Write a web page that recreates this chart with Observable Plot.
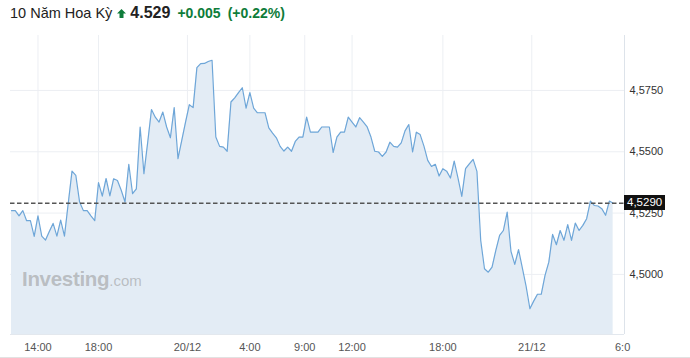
<!DOCTYPE html>
<html>
<head>
<meta charset="utf-8">
<script src="https://cdn.jsdelivr.net/npm/d3@7"></script>
<script src="https://cdn.jsdelivr.net/npm/@observablehq/plot@0.6"></script>
<style>
  html, body { margin: 0; padding: 0; background: #fff; }
  body { width: 690px; height: 358px; overflow: hidden; position: relative; font-family: "Liberation Sans", Arial, sans-serif; }
  #title { height: 30px; display: flex; align-items: center; padding-left: 10px; white-space: nowrap; box-sizing: border-box; padding-bottom: 4px; }
  #title .name { font-size: 14.5px; color: #222; }
  #title .arrow { margin-left: 5px; margin-right: 4px; display: inline-block; width: 9px; height: 9px; }
  #title .price { font-size: 16px; font-weight: bold; color: #222; }
  #title .chg { font-size: 14px; font-weight: bold; color: #0e7c3a; margin-left: 7px; }
  #chart { position: relative; height: 327px; }
  #chart svg { display: block; overflow: visible; }
  #price-tag { position: absolute; background: #111; color: #fff; font-size: 11.5px; padding: 1px 3px; line-height: 13px; }
  #wm { position: absolute; left: 22px; top: 267px; color: rgba(150,150,150,0.55); white-space: nowrap; }
  #wm .a { font-size: 20.5px; font-weight: bold; letter-spacing: -0.3px; }
  #wm .b { font-size: 15px; }
  #bottom { height: 1px; background: #e2e2e2; }
</style>
</head>
<body>
<div id="title">
  <span class="name">10 Năm Hoa Kỳ</span><svg class="arrow" viewBox="0 0 9 9"><polygon points="4.5,0 9,4.5 6.5,4.5 6.5,9 2.5,9 2.5,4.5 0,4.5" fill="#0e7c3a"/></svg><span class="price">4.529</span><span class="chg">+0.005</span><span class="chg">(+0.22%)</span>
</div>
<div id="chart"></div>
<div id="bottom"></div>
<div id="wm"><span class="a">Investing</span><span class="b">.com</span></div>
<script>
// Yield values (one point per slot, evenly spaced)
const yieldValues = [
  4.5260, 4.5260, 4.5239, 4.5260, 4.5219, 4.5219, 4.5155, 4.5239, 4.5156, 4.5140,
  4.5175, 4.5208, 4.5156, 4.5221, 4.5156, 4.5290, 4.5421, 4.5404, 4.5295, 4.5260,
  4.5260, 4.5239, 4.5219, 4.5374, 4.5319, 4.5391, 4.5320, 4.5390, 4.5383, 4.5343,
  4.5295, 4.5449, 4.5329, 4.5349, 4.5601, 4.5411, 4.5539, 4.5672, 4.5641, 4.5621,
  4.5662, 4.5601, 4.5557, 4.5680, 4.5472, 4.5546, 4.5621, 4.5692, 4.5680, 4.5843,
  4.5859, 4.5860, 4.5868, 4.5873, 4.5560, 4.5522, 4.5519, 4.5502, 4.5703, 4.5720,
  4.5741, 4.5761, 4.5678, 4.5741, 4.5678, 4.5659, 4.5659, 4.5659, 4.5597, 4.5576,
  4.5557, 4.5522, 4.5503, 4.5519, 4.5502, 4.5542, 4.5560, 4.5560, 4.5641, 4.5580,
  4.5580, 4.5580, 4.5601, 4.5601, 4.5601, 4.5497, 4.5560, 4.5580, 4.5580, 4.5641,
  4.5621, 4.5601, 4.5639, 4.5621, 4.5601, 4.5560, 4.5502, 4.5499, 4.5481, 4.5499,
  4.5539, 4.5522, 4.5519, 4.5536, 4.5585, 4.5611, 4.5499, 4.5580, 4.5570, 4.5523,
  4.5465, 4.5440, 4.5449, 4.5401, 4.5431, 4.5421, 4.5393, 4.5462, 4.5393, 4.5318,
  4.5431, 4.5451, 4.5469, 4.5420, 4.5139, 4.5023, 4.5009, 4.5030, 4.5098, 4.5159,
  4.5179, 4.5254, 4.5094, 4.5041, 4.5101, 4.5027, 4.4951, 4.4860, 4.4891, 4.4919,
  4.4919, 4.4996, 4.5050, 4.5163, 4.5121, 4.5179, 4.5139, 4.5203, 4.5139, 4.5209,
  4.5179, 4.5200, 4.5227, 4.5299, 4.5281, 4.5279, 4.5268, 4.5241, 4.5299, 4.5290
];
// X tick positions (in slot units) and labels
const tickSlots = [7, 23, 46.5, 63, 77.5, 90, 114, 137.5, 161.5];
const tickLabels = ["14:00", "18:00", "20/12", "4:00", "9:00", "12:00", "18:00", "21/12", "6:0"];
// Y ticks
const yTicks = [4.5, 4.525, 4.55, 4.575];
const lastPrice = 4.529;
const lastPriceLabel = "4,5290";

const xDomain = [-0.26, 162];
const yDomain = [4.4755, 4.5974];

const data = yieldValues.map((v, i) => ({i, v}));

const chart = Plot.plot({
  width: 690,
  height: 327,
  marginTop: 5,
  marginBottom: 23,
  marginLeft: 10,
  marginRight: 66,
  style: {fontFamily: "Liberation Sans, Arial, sans-serif", fontSize: "11px", background: "transparent", overflow: "visible"},
  x: {domain: xDomain, axis: null},
  y: {domain: yDomain, axis: null},
  marks: [
    Plot.gridY(yTicks, {stroke: "#eceff3", strokeOpacity: 1}),
    Plot.gridX(tickSlots.slice(0, -1), {stroke: "#eceff3", strokeOpacity: 1}),
    Plot.areaY(data, {x: "i", y1: yDomain[0], y2: "v", fill: "#e3ecf5", fillOpacity: 1}),
    Plot.lineY(data, {x: "i", y: "v", stroke: "#6ea6d8", strokeWidth: 1.2}),
    Plot.ruleX([xDomain[1]], {stroke: "#dde3ea"}),
    Plot.ruleY([yDomain[0]], {stroke: "#e3e8ee"}),
    Plot.ruleY([lastPrice], {stroke: "#555", strokeWidth: 1.3, strokeDasharray: "4.5,2.5"}),
    Plot.axisY(yTicks, {anchor: "right", label: null, tickSize: 0, tickPadding: 5, fill: "#333", fontSize: 11,
      tickFormat: d => d.toFixed(4).replace(".", ",")}),
    Plot.axisX(tickSlots, {anchor: "bottom", label: null, tickSize: 0, tickPadding: 9, fill: "#555", fontSize: 11,
      tickFormat: d => tickLabels[tickSlots.indexOf(d)]})
  ]
});
document.getElementById("chart").appendChild(chart);

// price tag positioned via the chart's own scales
const px = chart.scale("x").apply(xDomain[1]);
const py = chart.scale("y").apply(lastPrice);
const tag = document.createElement("div");
tag.id = "price-tag";
tag.textContent = lastPriceLabel;
document.getElementById("chart").appendChild(tag);
tag.style.left = px + "px";
tag.style.top = (py - tag.offsetHeight / 2) + "px";
</script>
</body>
</html>
